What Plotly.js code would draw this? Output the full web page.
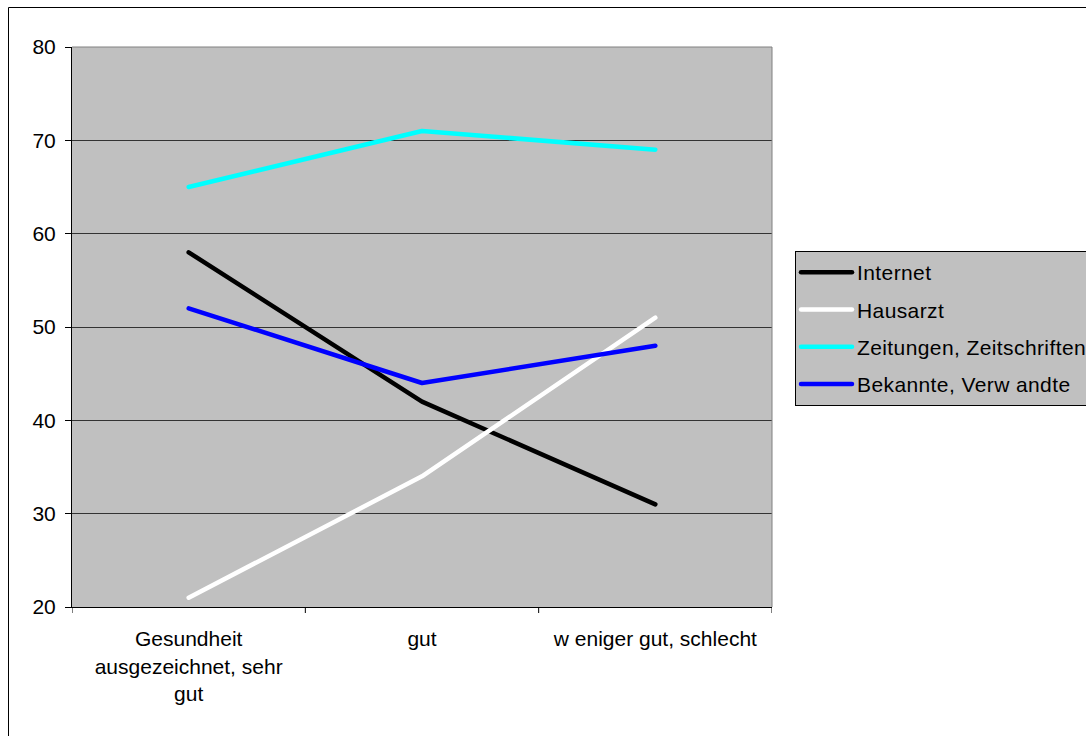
<!DOCTYPE html>
<html>
<head>
<meta charset="utf-8">
<script src="https://cdn.plot.ly/plotly-3.0.1.min.js"></script>
<style>
  html, body { margin: 0; padding: 0; background: #fff; overflow: hidden; }
  #chart { width: 1086px; height: 736px; }
  .scatterlayer .js-line, .legendlines path { stroke-linecap: round; stroke-linejoin: round; }
  .legendtext { letter-spacing: 0.4px; }
</style>
</head>
<body>
<div id="chart"></div>
<script>
// Categories (self-rated health) and share of respondents per information source
const categories = ["Gesundheit<br>ausgezeichnet, sehr<br>gut", "gut", "w eniger gut, schlecht"];
const seriesNames = ["Internet", "Hausarzt", "Zeitungen, Zeitschriften", "Bekannte, Verw andte"];
const internet = [58, 42, 31];
const hausarzt = [21, 34, 51];
const zeitungen = [65, 71, 69];
const bekannte = [52, 44, 48];
const seriesColors = ["#000000", "#FFFFFF", "#00FFFF", "#0000FF"];
const yTicks = [20, 30, 40, 50, 60, 70, 80];

const seriesValues = [internet, hausarzt, zeitungen, bekannte];
const xIdx = categories.map((_, i) => i);

const traces = seriesValues.map((vals, i) => ({
  type: "scatter",
  mode: "lines",
  name: seriesNames[i],
  legendgroup: "g" + i,
  x: xIdx,
  y: vals,
  line: { color: seriesColors[i], width: 4.5 },
  hoverinfo: "skip"
}));

const W = 1086, H = 736;
const L = 72, R = 772, T = 47, B = 607;
const px = v => (v - L) / (R - L);
const py = v => (B - v) / (B - T);

const layout = {
  width: W,
  height: H,
  margin: { l: L, r: W - R, t: T, b: H - B, pad: 0, autoexpand: false },
  paper_bgcolor: "#FFFFFF",
  plot_bgcolor: "#C0C0C0",
  font: { family: "Liberation Sans, Arial, sans-serif", size: 21, color: "#000000" },
  showlegend: true,
  legend: {
    x: px(795), xanchor: "left",
    y: py(251), yanchor: "top",
    bgcolor: "#C0C0C0",
    bordercolor: "#000000",
    borderwidth: 1,
    itemwidth: 51,
    tracegroupgap: 7,
    traceorder: "grouped",
    font: { size: 21 }
  },
  xaxis: {
    type: "linear",
    range: [-0.5, 2.5],
    tickmode: "array",
    tickvals: xIdx,
    ticktext: categories,
    ticks: "",
    showgrid: false,
    zeroline: false,
    showline: true,
    linecolor: "#000000",
    linewidth: 1,
    ticklabelstandoff: 13,
    fixedrange: true
  },
  yaxis: {
    range: [20, 80],
    tickmode: "array",
    tickvals: yTicks,
    ticks: "outside",
    ticklen: 6,
    tickcolor: "#000000",
    showgrid: true,
    gridcolor: "#333333",
    gridwidth: 1,
    zeroline: false,
    showline: true,
    linecolor: "#000000",
    linewidth: 1,
    ticklabelstandoff: 5,
    fixedrange: true
  },
  shapes: [
    // category boundary ticks below the x axis
    ...[-0.5, 0.5, 1.5, 2.5].map(b => ({
      type: "line", xref: "x", yref: "paper",
      x0: b, x1: b, y0: 0, y1: -6 / (B - T),
      line: { color: "#000000", width: 1 }
    })),
    // grey frame of the plot area (top and right)
    { type: "line", xref: "paper", yref: "paper", x0: 0, x1: 1, y0: 1, y1: 1,
      line: { color: "#808080", width: 1 } },
    { type: "line", xref: "paper", yref: "paper", x0: 1, x1: 1, y0: 0, y1: 1,
      line: { color: "#808080", width: 1 } },
    // outer chart border
    { type: "rect", xref: "paper", yref: "paper", layer: "below",
      x0: px(8.5), x1: px(1100), y0: py(750), y1: py(7.5),
      line: { color: "#000000", width: 1 }, fillcolor: "rgba(0,0,0,0)" }
  ]
};

Plotly.newPlot("chart", traces, layout, { staticPlot: true, displayModeBar: false });
</script>
</body>
</html>
